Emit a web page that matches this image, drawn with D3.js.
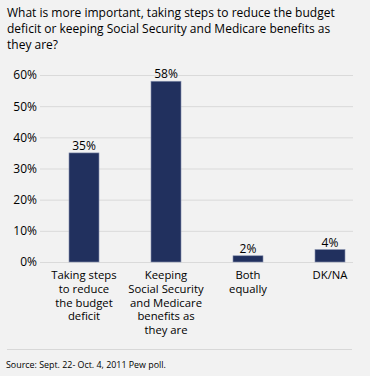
<!DOCTYPE html>
<html>
<head>
<meta charset="utf-8">
<script src="https://cdn.jsdelivr.net/npm/d3@7"></script>
<style>
  body { margin: 0; background: #f2f2f2; }
  svg { display: block; font-family: "Open Sans", sans-serif; }
</style>
</head>
<body>
<script>
// chart data
var categories = [
    ["Taking steps", "to reduce", "the budget", "deficit"],
    ["Keeping", "Social Security", "and Medicare", "benefits as", "they are"],
    ["Both", "equally"],
    ["DK/NA"]
];
var values = [35, 58, 2, 4];
var tickValues = [0, 10, 20, 30, 40, 50, 60];
var titleLines = [
    "What is more important, taking steps to reduce the budget",
    "deficit or keeping Social Security and Medicare benefits as",
    "they are?"
];
var sourceText = "Source: Sept. 22- Oct. 4, 2011 Pew poll.";

var w = 370, h = 376;

var svg = d3.select("body").append("svg")
    .attr("width", w)
    .attr("height", h);

svg.append("rect")
    .attr("width", w)
    .attr("height", h)
    .style("fill", "#f2f2f2");

//title
svg.append("text")
    .attr("class", "title")
    .style("font-size", "12px")
    .style("fill", "#000")
    .selectAll("tspan")
    .data(titleLines)
    .enter()
    .append("tspan")
    .attr("x", 7)
    .attr("y", function(d, i){ return 17 + i * 16; })
    .text(function(d){ return d; });

//scales
var x = d3.scaleBand()
    .domain(d3.range(values.length))
    .range([43, 371])
    .paddingInner(0.634)
    .paddingOuter(0.317);

var y = d3.scaleLinear()
    .domain([0, 60])
    .range([262, 75]);

//gridlines
svg.selectAll(".grid")
    .data(tickValues)
    .enter()
    .append("line")
    .attr("class", "grid")
    .attr("x1", 40)
    .attr("x2", 353)
    .attr("y1", function(d){ return y(d) + 0.5; })
    .attr("y2", function(d){ return y(d) + 0.5; })
    .style("stroke", "#dadada")
    .style("stroke-width", 1);

//y axis labels
var yAxis = d3.axisLeft(y)
    .tickValues(tickValues)
    .tickSize(0)
    .tickPadding(0)
    .tickFormat(function(d){ return d + "%"; });

var axis = svg.append("g")
    .attr("class", "axis")
    .attr("transform", "translate(37, 0)")
    .call(yAxis);
axis.select(".domain").remove();
axis.selectAll("text")
    .style("font-family", "'Open Sans', sans-serif")
    .style("font-size", "12px")
    .style("fill", "#000");

//bars
svg.selectAll(".bar")
    .data(values)
    .enter()
    .append("rect")
    .attr("class", "bar")
    .attr("x", function(d, i){ return x(i); })
    .attr("y", function(d){ return y(d); })
    .attr("width", x.bandwidth())
    .attr("height", function(d){ return y(0) - y(d); })
    .style("fill", "#21305e")
    .style("stroke", "#8a94b0")
    .style("stroke-width", 0.6);

//value labels
svg.selectAll(".val")
    .data(values)
    .enter()
    .append("text")
    .attr("class", "val")
    .attr("text-anchor", "middle")
    .attr("x", function(d, i){ return x(i) + x.bandwidth() / 2; })
    .attr("y", function(d){ return y(d) - 3; })
    .style("font-size", "12px")
    .style("fill", "#000")
    .text(function(d){ return d + "%"; });

//category labels
svg.selectAll(".cat")
    .data(categories)
    .enter()
    .append("text")
    .attr("class", "cat")
    .attr("text-anchor", "middle")
    .style("font-size", "11.3px")
    .style("fill", "#000")
    .each(function(lines, i){
        d3.select(this).selectAll("tspan")
            .data(lines)
            .enter()
            .append("tspan")
            .attr("x", x(i) + x.bandwidth() / 2)
            .attr("y", function(d, j){ return 279 + j * 13.8; })
            .text(function(d){ return d; });
    });

//bottom rule and source
svg.append("line")
    .attr("x1", 7)
    .attr("x2", 352)
    .attr("y1", 349.5)
    .attr("y2", 349.5)
    .style("stroke", "#d8d8d8")
    .style("stroke-width", 1);

svg.append("text")
    .attr("x", 6)
    .attr("y", 368)
    .style("font-size", "8.9px")
    .style("fill", "#000")
    .text(sourceText);
</script>
</body>
</html>
